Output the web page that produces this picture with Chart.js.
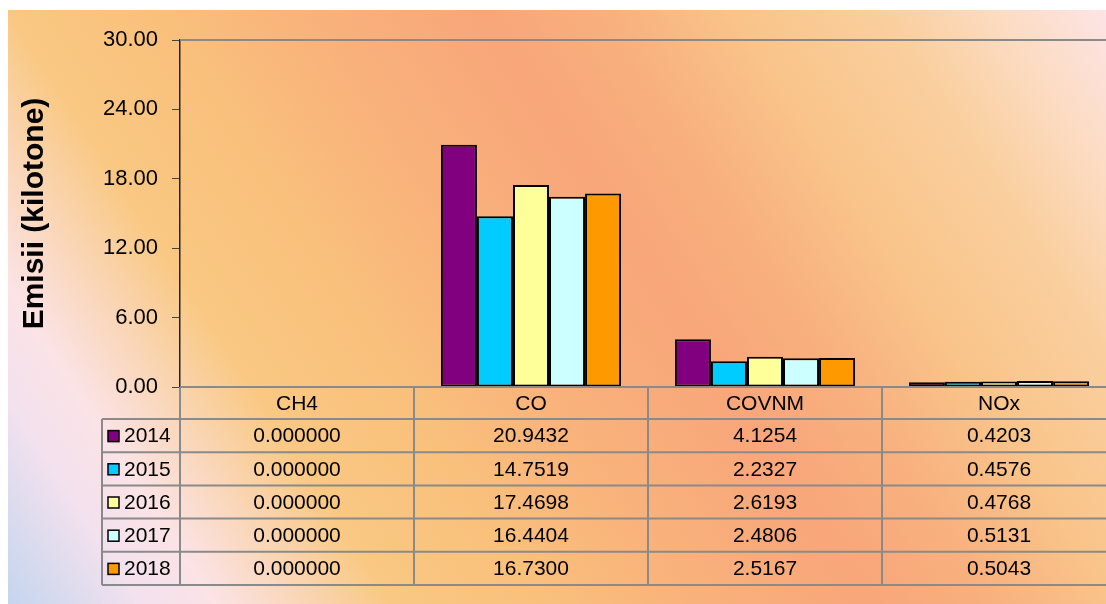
<!DOCTYPE html>
<html>
<head>
<meta charset="utf-8">
<script src="https://cdn.jsdelivr.net/npm/chart.js@4.4.1/dist/chart.umd.min.js"></script>
<style>
  html, body { margin: 0; padding: 0; width: 1106px; height: 604px; overflow: hidden; background: #fff; }
  #bg {
    position: absolute; left: 8px; top: 10px; width: 1098px; height: 594px;
    background: linear-gradient(57deg,
      #c4d5ee 0%, #f3e1ee 9%, #fbe3e6 14%, #fad8be 19%, #f9c882 26%, #f9c07c 36%,
      #f9b27b 46%, #f8a67a 58%, #f8b07e 66%, #f9c48a 75%, #facf9e 85%, #fcdcc4 93%, #fde4e6 100%);
  }
  #chart { position: absolute; left: 0; top: 0; }
</style>
</head>
<body>
<div id="bg"></div>
<canvas id="chart" width="1120" height="604"></canvas>
<script>
// categorii si ani
const categories = ['CH4', 'CO', 'COVNM', 'NOx'];
const years = ['2014', '2015', '2016', '2017', '2018'];

// emisii pe ani (kilotone)
const values2014 = [0, 20.9432, 4.1254, 0.4203];
const values2015 = [0, 14.7519, 2.2327, 0.4576];
const values2016 = [0, 17.4698, 2.6193, 0.4768];
const values2017 = [0, 16.4404, 2.4806, 0.5131];
const values2018 = [0, 16.7300, 2.5167, 0.5043];

const yTicks = [0, 6, 12, 18, 24, 30];
const decimals = [6, 4, 4, 4];
const barColors = ['#800080', '#00ccff', '#ffff99', '#ccffff', '#ff9900'];

const FONT = '"Liberation Sans", Arial, sans-serif';
const series = [values2014, values2015, values2016, values2017, values2018];

// tabelul de date sub grafic
const dataTable = {
  id: 'dataTable',
  afterDraw(chart) {
    const ctx = chart.ctx;
    const area = chart.chartArea;
    const xs = chart.scales.x;
    const half = (xs.getPixelForValue(1) - xs.getPixelForValue(0)) / 2;
    const edges = categories.map((c, i) => xs.getPixelForValue(i) - half);
    edges.push(xs.getPixelForValue(categories.length - 1) + half);

    const legendLeft = 102;
    const headTop = area.bottom;
    const headBottom = headTop + 32;
    const rowH = 33.2;
    const tableBottom = headBottom + rowH * years.length;

    ctx.save();
    // chenar sus
    ctx.strokeStyle = '#8a8a8a';
    ctx.lineWidth = 2;
    ctx.beginPath();
    ctx.moveTo(area.left, area.top);
    ctx.lineTo(area.right, area.top);
    ctx.stroke();

    // linii orizontale
    ctx.beginPath();
    ctx.moveTo(area.left, headTop);
    ctx.lineTo(edges[edges.length - 1], headTop);
    for (let r = 0; r <= years.length; r++) {
      const y = headBottom + r * rowH;
      ctx.moveTo(legendLeft, y);
      ctx.lineTo(edges[edges.length - 1], y);
    }
    // linii verticale
    ctx.moveTo(legendLeft, headBottom);
    ctx.lineTo(legendLeft, tableBottom);
    edges.forEach(ex => {
      ctx.moveTo(ex, headTop);
      ctx.lineTo(ex, tableBottom);
    });
    ctx.stroke();

    ctx.fillStyle = '#000';
    ctx.font = '21px ' + FONT;
    ctx.textBaseline = 'middle';
    ctx.textAlign = 'center';
    categories.forEach((c, i) => {
      ctx.fillText(c, xs.getPixelForValue(i), (headTop + headBottom) / 2 + 1);
    });

    years.forEach((yr, r) => {
      const cy = headBottom + r * rowH + rowH / 2 + 1;
      // cheie legenda
      ctx.fillStyle = barColors[r];
      ctx.fillRect(108, cy - 6, 11, 11);
      ctx.strokeStyle = '#000';
      ctx.lineWidth = 1.5;
      ctx.strokeRect(108, cy - 6, 11, 11);
      ctx.fillStyle = '#000';
      ctx.textAlign = 'left';
      ctx.fillText(yr, 124, cy);
      ctx.textAlign = 'center';
      series[r].forEach((v, i) => {
        ctx.fillText(v.toFixed(decimals[i]), xs.getPixelForValue(i), cy);
      });
    });
    ctx.restore();
  }
};

new Chart(document.getElementById('chart'), {
  type: 'bar',
  data: {
    labels: categories,
    datasets: years.map((yr, i) => ({
      label: yr,
      data: series[i],
      backgroundColor: barColors[i],
      borderColor: '#000',
      borderWidth: 2,
      borderSkipped: false,
      categoryPercentage: 0.77,
      barPercentage: 1
    }))
  },
  options: {
    responsive: false,
    animation: false,
    layout: { padding: { top: 40, bottom: 217, left: 0, right: 4 } },
    plugins: { legend: { display: false }, tooltip: { enabled: false } },
    scales: {
      x: { display: false },
      y: {
        min: 0,
        max: 30,
        afterBuildTicks: s => { s.ticks = yTicks.map(v => ({ value: v })); },
        afterFit: s => { s.width = 180; },
        ticks: {
          color: '#000',
          padding: 14,
          font: { size: 22, family: FONT },
          callback: v => Number(v).toFixed(2)
        },
        grid: { drawOnChartArea: false, drawTicks: true, tickLength: 8, tickColor: '#444' },
        border: { display: true, color: '#222', width: 1.5 },
        title: {
          display: true,
          text: 'Emisii (kilotone)',
          color: '#000',
          font: { size: 30, weight: 'bold', family: FONT },
          padding: { top: 17, bottom: 0 }
        }
      }
    }
  },
  plugins: [dataTable]
});
</script>
</body>
</html>
